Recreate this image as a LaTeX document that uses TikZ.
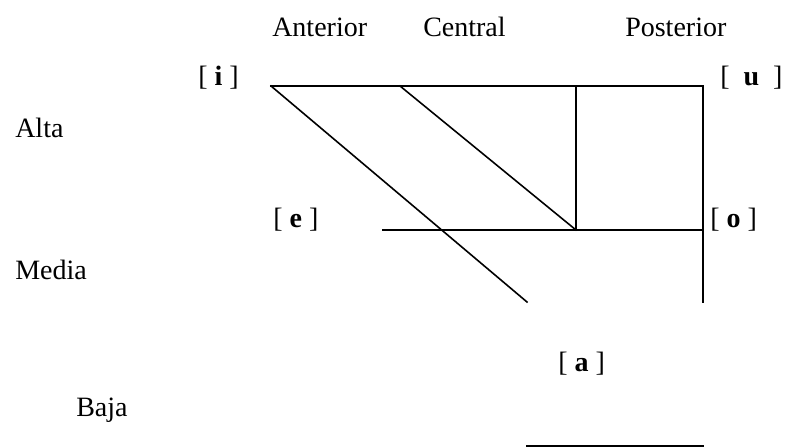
\documentclass[tikz,border=0pt]{standalone}
\usepackage{fontspec}
\setmainfont{Liberation Serif}
\begin{document}
\begin{tikzpicture}[x=0.75pt,y=-0.75pt,
  lbl/.style={anchor=base west,inner sep=0pt,font=\fontsize{21}{25}\selectfont},
  ln/.style={line width=1.2pt,line cap=rect}]
\useasboundingbox (0,0) rectangle (787,448);
% column headings
\node[lbl] (ant) at (272,37) {Anterior};
\node[lbl] (cen) at (423,37) {Central};
\node[lbl] (pos) at (625,37) {Posterior};
% row labels
\node[lbl] (alta) at (15,138) {Alta};
\node[lbl] (media) at (15,280) {Media};
\node[lbl] (baja) at (76,416) {Baja};
% vowels
\node[lbl] (vi) at (198,86) {[ \textbf{i} ]};
\node[lbl] (vu) at (720,86) {[\ \ \textbf{u}\ \ ]};
\node[lbl] (ve) at (273,228) {[ \textbf{e} ]};
\node[lbl] (vo) at (710,228) {[ \textbf{o} ]};
\node[lbl] (va) at (558,371) {[ \textbf{a} ]};
% corner points
\coordinate (tl) at (271,86);
\coordinate (tc) at (400,86);
\coordinate (tm) at (576,86);
\coordinate (tr) at (703,86);
\coordinate (ml) at (383,230);
\coordinate (mm) at (576,230);
\coordinate (mr) at (703,230);
\coordinate (br) at (703,302);
\coordinate (dl) at (527,302);
\coordinate (bl) at (527,446);
\coordinate (bb) at (703,446);
% lines
\draw[ln] (tl) -- (tr) -- (br);
\draw[ln] (tl) -- (dl);
\draw[ln] (tc) -- (mm);
\draw[ln] (tm) -- (mm);
\draw[ln] (ml) -- (mr);
\draw[ln] (bl) -- (bb);
\end{tikzpicture}
\end{document}
